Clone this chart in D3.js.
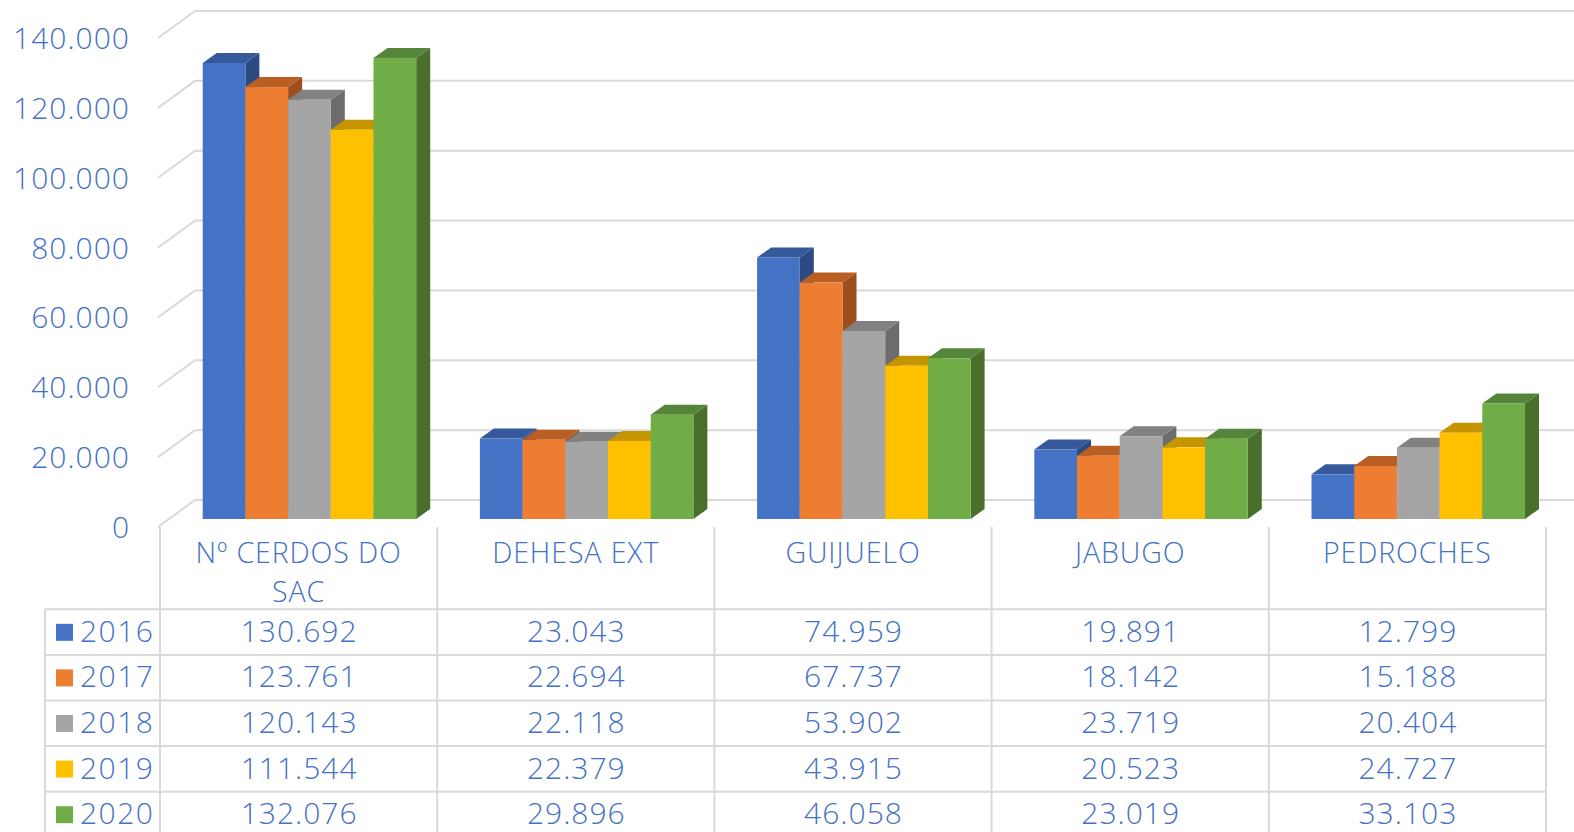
<!DOCTYPE html>
<html>
<head>
<meta charset="utf-8">
<script src="https://cdn.jsdelivr.net/npm/d3@7"></script>
<style>
  html, body { margin: 0; padding: 0; background: #fff; }
  svg { display: block; }
  text { font-family: "Open Sans", "Noto Sans", sans-serif; fill: #4472C4; font-weight: 300; }
</style>
</head>
<body>
<svg id="chart" width="1574" height="832"></svg>
<script>
const categories = ["Nº CERDOS DO SAC", "DEHESA EXT", "GUIJUELO", "JABUGO", "PEDROCHES"];
const categoryLines = [["Nº CERDOS DO", "SAC"], ["DEHESA EXT"], ["GUIJUELO"], ["JABUGO"], ["PEDROCHES"]];
const years = ["2016", "2017", "2018", "2019", "2020"];
const v2016 = [130692, 23043, 74959, 19891, 12799];
const v2017 = [123761, 22694, 67737, 18142, 15188];
const v2018 = [120143, 22118, 53902, 23719, 20404];
const v2019 = [111544, 22379, 43915, 20523, 24727];
const v2020 = [132076, 29896, 46058, 23019, 33103];
const yTicks = [0, 20000, 40000, 60000, 80000, 100000, 120000, 140000];
const colors = ["#4472C4", "#ED7D31", "#A5A5A5", "#FFC000", "#70AD47"];
const topColors = ["#35599a", "#b95f24", "#818181", "#c49500", "#55853a"];
const sideColors = ["#2b4a80", "#9c4f1c", "#6c6c6c", "#a67c00", "#4a6f2d"];

const series = [v2016, v2017, v2018, v2019, v2020];

const svg = d3.select("#chart");
const fmt = d3.formatLocale({decimal: ",", thousands: ".", grouping: [3], currency: ["", "€"]}).format(",d");

// scales
const yFront = d3.scaleLinear().domain([0, 140000]).range([527, 38]);
const yBack = d3.scaleLinear().domain([0, 140000]).range([500, 11]);
const yBar = d3.scaleLinear().domain([0, 140000]).range([519, 30.4]);
const xCat = d3.scaleBand().domain(categories).range([160, 1546]);
const groupOffset = 42.7;
const xBar = d3.scaleBand().domain(years).range([groupOffset, groupOffset + 42.7 * 5]);
const depthX = 14, depthY = -10;
const wallX0 = 158, wallX1 = 195;

// gridlines
const grid = svg.append("g");
yTicks.forEach(t => {
  grid.append("path")
    .attr("d", `M${wallX0},${yFront(t)} L${wallX1},${yBack(t)} L1574,${yBack(t)}`)
    .attr("fill", "none").attr("stroke", "#d9d9d9").attr("stroke-width", 2);
});

// y labels
svg.append("g").selectAll("text").data(yTicks).join("text")
  .attr("x", 130).attr("y", d => yFront(d) + 11)
  .attr("text-anchor", "end").attr("font-size", 30).attr("letter-spacing", 1)
  .text(d => fmt(d));

// bars
const bars = svg.append("g");
categories.forEach((c, ci) => {
  years.forEach((yr, si) => {
    const v = series[si][ci];
    const x = xCat(c) + xBar(yr);
    const w = xBar.bandwidth();
    const y0 = yBar(0), y1 = yBar(v);
    const g = bars.append("g");
    g.append("path")
      .attr("d", `M${x + w},${y1} L${x + w + depthX},${y1 + depthY} L${x + w + depthX},${y0 + depthY} L${x + w},${y0} Z`)
      .attr("fill", sideColors[si]);
    g.append("path")
      .attr("d", `M${x},${y1} L${x + depthX},${y1 + depthY} L${x + w + depthX},${y1 + depthY} L${x + w},${y1} Z`)
      .attr("fill", topColors[si]);
    g.append("rect")
      .attr("x", x).attr("y", y1).attr("width", w).attr("height", y0 - y1)
      .attr("fill", colors[si]);
  });
});

// data table
const table = svg.append("g");
const headerTop = 527, rowTop = 609.3, rowH = 45.6, tableLeft = 45;
const lineColor = "#d9d9d9";
for (let i = 0; i <= years.length; i++) {
  table.append("line")
    .attr("x1", tableLeft).attr("x2", 1546)
    .attr("y1", rowTop + i * rowH).attr("y2", rowTop + i * rowH)
    .attr("stroke", lineColor).attr("stroke-width", 2);
}
table.append("line").attr("x1", tableLeft).attr("x2", tableLeft)
  .attr("y1", rowTop).attr("y2", 832).attr("stroke", lineColor).attr("stroke-width", 2);
const vx = categories.map(c => xCat(c)).concat([xCat.range()[1]]);
vx.forEach(x => {
  table.append("line").attr("x1", x).attr("x2", x)
    .attr("y1", headerTop).attr("y2", 832).attr("stroke", lineColor).attr("stroke-width", 2);
});
// category headers (one text per category, wrapped with tspans)
categories.forEach((c, ci) => {
  const cx = xCat(c) + xCat.bandwidth() / 2;
  const t = table.append("text").attr("x", cx).attr("y", 563)
    .attr("text-anchor", "middle").attr("font-size", 28.5).attr("letter-spacing", 0.9);
  categoryLines[ci].forEach((ln, li) => {
    t.append("tspan").attr("x", cx).attr("dy", li === 0 ? 0 : 39).text(ln);
  });
});
// rows
years.forEach((yr, si) => {
  const base = rowTop + si * rowH + 32.5;
  table.append("rect").attr("x", 56).attr("y", rowTop + si * rowH + 14.5)
    .attr("width", 17).attr("height", 17).attr("fill", colors[si]);
  table.append("text").attr("x", 80).attr("y", base).attr("font-size", 30)
    .attr("letter-spacing", 1.5).text(yr);
  categories.forEach((c, ci) => {
    table.append("text").attr("x", xCat(c) + xCat.bandwidth() / 2 + 0.5).attr("y", base)
      .attr("text-anchor", "middle").attr("font-size", 30).attr("letter-spacing", 1)
      .text(fmt(series[si][ci]));
  });
});
</script>
</body>
</html>
